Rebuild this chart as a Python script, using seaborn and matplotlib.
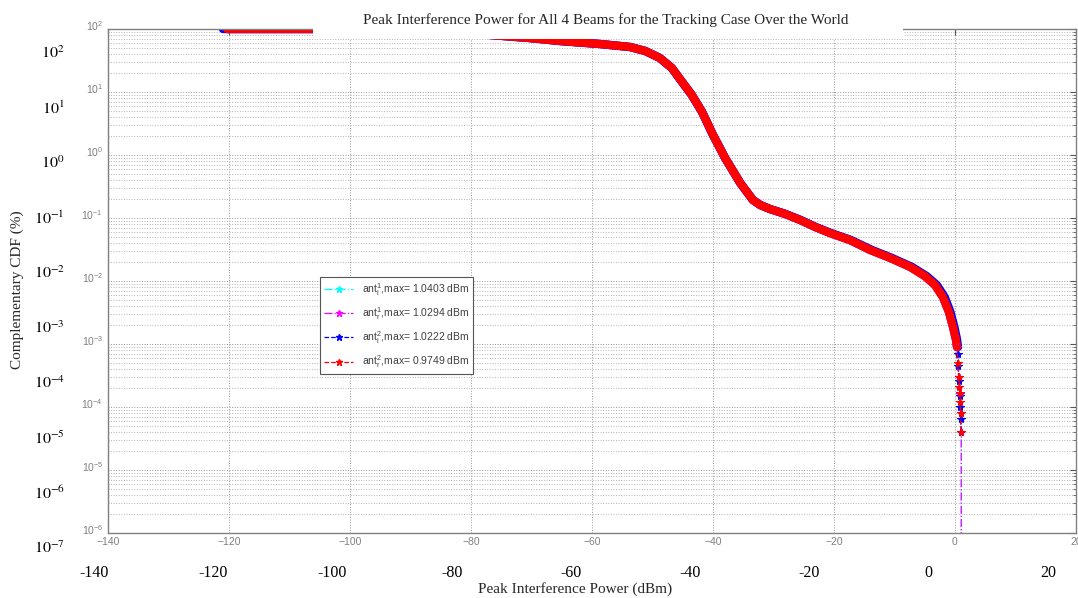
import matplotlib
matplotlib.use("Agg")
import numpy as np
import matplotlib.pyplot as plt
import matplotlib.ticker as mticker
import matplotlib.transforms as mtrans
from matplotlib.lines import Line2D
from matplotlib.patches import Rectangle
import seaborn as sns

sns.set_style("white")
plt.rcParams['font.family'] = ['Liberation Sans', 'DejaVu Sans']
plt.rcParams['mathtext.fontset'] = 'custom'
plt.rcParams['mathtext.rm'] = 'Liberation Sans'
plt.rcParams['mathtext.it'] = 'Liberation Sans:italic'
plt.rcParams['mathtext.bf'] = 'Liberation Sans:bold'

# ---- data ----
# dense part of the curves (red on top, blue peeks out slightly right of it)
power_red = [-120.3, -106, -90, -78, -70.3, -65.3, -58.7, -53.7, -51.2, -48.8, -46.8,
             -45.1, -43.5, -41.8, -40.0, -38.0, -35.5, -33.4, -32.2, -30.6, -28.1,
             -25.6, -23.1, -20.7, -17.4, -14.0, -10.7, -7.4, -5.0, -3.3, -2.0,
             -1.0, -0.33, 0.17, 0.33]
ccdf_red = [100, 100, 95, 82, 71.9, 64.5, 57.8, 51.8, 44.8, 34.7, 24.0,
            14.4, 8.96, 4.81, 2.08, 0.896, 0.360, 0.193, 0.161, 0.139, 0.116,
            0.0929, 0.0719, 0.0578, 0.0448, 0.0310, 0.0232, 0.0167, 0.0120, 0.00865, 0.00557,
            0.00322, 0.00186, 0.00116, 0.000895]
power_blue = [-121.0, -106, -90, -78, -70.3, -65.3, -58.7, -53.7, -51.2, -48.8, -46.8,
              -45.1, -43.5, -41.8, -40.0, -38.0, -35.5, -33.4, -32.2, -30.6, -28.0,
              -25.5, -23.0, -20.5, -17.2, -13.7, -10.4, -7.1, -4.7, -3.0, -1.7,
              -0.75, -0.1, 0.35, 0.5]
ccdf_blue = ccdf_red

# sparse tail with markers
tail_red_x = [0.33, 0.45, 0.6, 0.7, 0.8, 0.85, 0.92, 0.97]
tail_red_y = [9e-4, 5e-4, 3e-4, 2.1e-4, 1.67e-4, 1.2e-4, 8e-5, 4e-5]
tail_blue_x = [0.5, 0.55, 0.68, 0.78, 0.88, 0.95, 1.02]
tail_blue_y = [7e-4, 4.5e-4, 2.6e-4, 1.5e-4, 1.0e-4, 6.5e-5, 4e-5]
tail_cyan_x = [0.33, 0.6, 0.8, 0.95, 1.04, 1.04]
tail_cyan_y = [9e-4, 3e-4, 1.6e-4, 8e-5, 4e-5, 1e-8]
tail_mag_x = [0.33, 0.6, 0.8, 0.95, 1.03, 1.03]
tail_mag_y = [9e-4, 3e-4, 1.6e-4, 8e-5, 4e-5, 1e-8]

labels = [r'ant$_{\mathrm{l}}^{1}$,max= 1.0403 dBm',
          r'ant$_{\mathrm{r}}^{1}$,max= 1.0294 dBm',
          r'ant$_{\mathrm{l}}^{2}$,max= 1.0222 dBm',
          r'ant$_{\mathrm{r}}^{2}$,max= 0.9749 dBm']
colors = ['cyan', 'magenta', 'blue', 'red']
styles = ['-.', '-.', '--', '--']

inner_xticks = [-140, -120, -100, -80, -60, -40, -20, 0, 20]
inner_yexp = [2, 1, 0, -1, -2, -3, -4, -5, -6]
outer_xticks = [-140, -120, -100, -80, -60, -40, -20, 0, 20]
outer_yexp = [2, 1, 0, -1, -2, -3, -4, -5, -6, -7]

title = "Peak Interference Power for All 4 Beams for the Tracking Case Over the World"

# ---- figure ----
W, H = 1078, 598
fig = plt.figure(figsize=(W / 100, H / 100), dpi=100)
ax_o = fig.add_axes([94 / W, 51 / H, 954 / W, 495 / H])
ax = fig.add_axes([108 / W, 65 / H, 968 / W, 504 / H])
ax.set_zorder(2)
ax_o.set_zorder(1)

# outer (large serif) labels
ax_o.patch.set_visible(False)
for s in ax_o.spines.values():
    s.set_visible(False)
ax_o.set_xlim(-140, 20)
ax_o.set_yscale('log')
ax_o.set_ylim(1e-7, 1e2)
ax_o.set_xticks(outer_xticks, [str(v) for v in outer_xticks])
ax_o.set_yticks([10.0 ** e for e in outer_yexp],
                [r'$10^{\mathrm{%s}}$' % str(e) for e in outer_yexp])
ax_o.yaxis.set_minor_locator(mticker.NullLocator())
ax_o.tick_params(length=0, labelsize=11.5, labelfontfamily='Liberation Serif', labelcolor='black')
ax_o.tick_params(axis='x', pad=13)
ax_o.tick_params(axis='y', pad=21)
for t in ax_o.get_yticklabels():
    t.set_math_fontfamily('stix')

# curves
for xs, ys, c in [(power_red, ccdf_red, 'cyan'), (power_red, ccdf_red, 'magenta'),
                  (power_blue, ccdf_blue, 'blue'), (power_red, ccdf_red, 'red')]:
    sns.lineplot(x=xs, y=ys, ax=ax, color=c, lw=6, sort=False, estimator=None,
                 solid_capstyle='round', solid_joinstyle='round')

tails = [(tail_cyan_x, tail_cyan_y), (tail_mag_x, tail_mag_y),
         (tail_blue_x, tail_blue_y), (tail_red_x, tail_red_y)]
for (xs, ys), c, ls in zip(tails, colors, styles):
    sns.lineplot(x=xs, y=ys, ax=ax, color=c, lw=0.9, linestyle=ls, marker='*',
                 markersize=6, markeredgecolor=c, sort=False, estimator=None)

ax.set_yscale('log')
ax.set_xlim(-140, 20)
ax.set_ylim(1e-6, 1e2)
ax.set_xticks(inner_xticks)
ax.set_yticks([10.0 ** e for e in inner_yexp],
              [r'$10^{\mathrm{%d}}$' % e for e in inner_yexp])
ax.yaxis.set_minor_locator(mticker.LogLocator(base=10, subs=range(2, 10), numticks=20))
ax.yaxis.set_minor_formatter(mticker.NullFormatter())
ax.tick_params(which='both', direction='in', top=True, right=True,
               color='#555555', labelcolor='#808080', labelsize=7.5)
ax.tick_params(which='major', length=4)
ax.tick_params(which='minor', length=2.5)
ax.tick_params(axis='x', pad=3)
ax.tick_params(axis='y', pad=3.5)
lift = mtrans.ScaledTranslation(0, 3 / 72, fig.dpi_scale_trans)
for t in ax.get_yticklabels():
    t.set_transform(t.get_transform() + lift)
for s in ax.spines.values():
    s.set_color('#808080')
    s.set_linewidth(1)
ax.grid(True, which='major', axis='both', ls=':', color='#9a9a9a', lw=0.7)
ax.grid(True, which='minor', axis='y', ls=':', color='#b5b5b5', lw=0.7)
ax.set_xlabel('')
ax.set_ylabel('')

handles = [Line2D([], [], color=c, ls=ls, lw=0.9, marker='*', ms=5) for c, ls in zip(colors, styles)]
leg = ax.legend(handles, labels, loc='upper left', bbox_to_anchor=(0.219, 0.508),
                borderaxespad=0, fontsize=7.5, labelcolor='#404040', fancybox=False,
                framealpha=1, edgecolor='#555555', labelspacing=0.7, handlelength=2.8)
leg.get_frame().set_linewidth(0.8)

# white box behind the title
fig.add_artist(Rectangle((313 / W, 1 - 39 / H), (903 - 313) / W, 39 / H,
                         transform=fig.transFigure, facecolor='white',
                         edgecolor='none', zorder=5))
fig.text(606 / W, 1 - 20 / H, title, ha='center', va='center', fontsize=11,
         family='Liberation Serif', zorder=6)
fig.text(575 / W, 1 - 589 / H, 'Peak Interference Power (dBm)', ha='center', va='center',
         fontsize=11, family='Liberation Serif')
fig.text(17 / W, 1 - 290 / H, 'Complementary CDF (%)', ha='center', va='center',
         rotation=90, fontsize=11, family='Liberation Serif')

fig.savefig('out.png', dpi=100)
